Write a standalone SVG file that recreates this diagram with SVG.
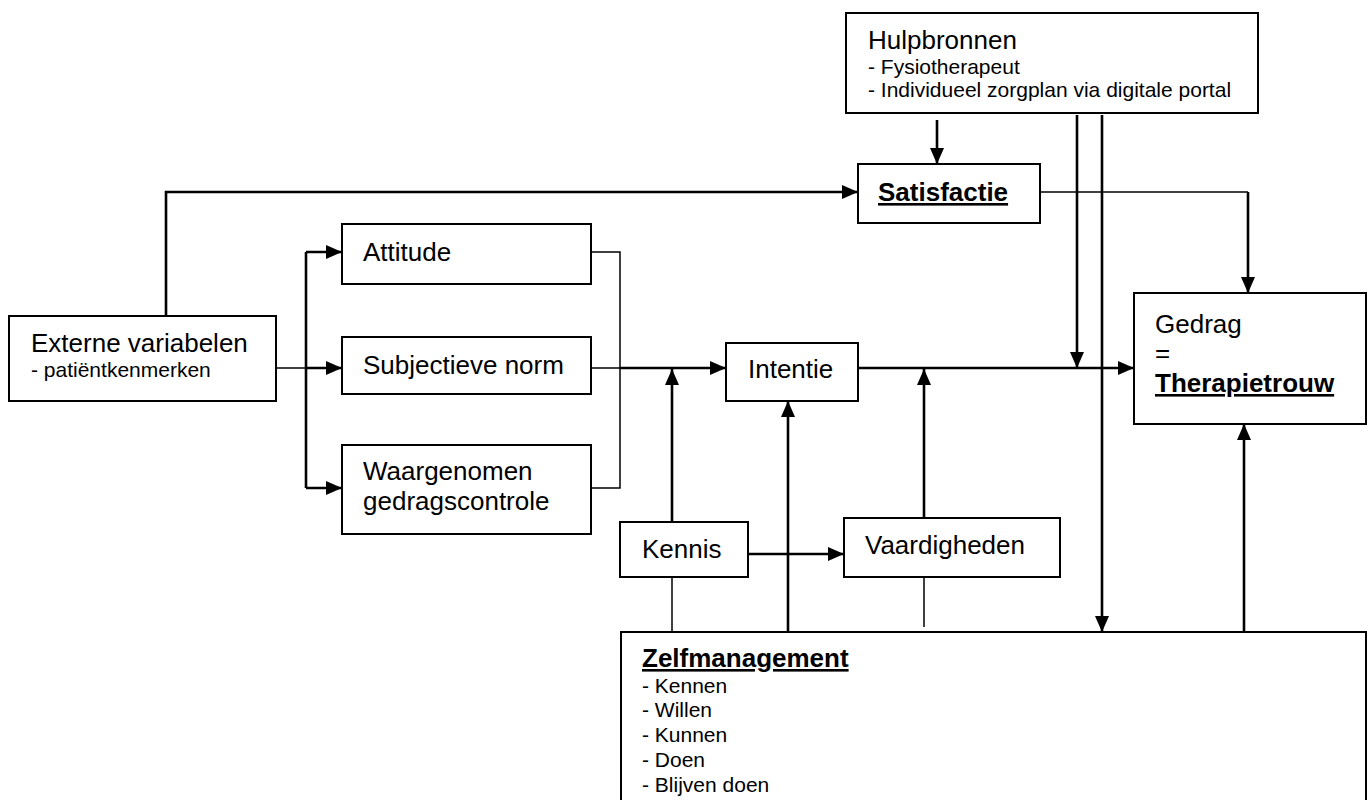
<svg xmlns="http://www.w3.org/2000/svg" width="1367" height="800" viewBox="0 0 1367 800">
<style>
.box{fill:#fff;stroke:#000;stroke-width:2}
.t{font-family:"Liberation Sans",Arial,sans-serif;font-size:26px;fill:#000}
.s{font-family:"Liberation Sans",Arial,sans-serif;font-size:21px;fill:#000}
.b{font-weight:bold;text-decoration:underline}
.th{fill:none;stroke:#000;stroke-width:2.6}
.tn{fill:none;stroke:#000;stroke-width:1.5}
</style>
<defs>
<marker id="ah" markerWidth="16" markerHeight="14" refX="16" refY="7" orient="auto" markerUnits="userSpaceOnUse"><path d="M0,0 L16,7 L0,14 Z" fill="#000"/></marker>
</defs>
<rect width="1367" height="800" fill="#fff"/>
<g id="nodes">
<g id="hulpbronnen"><rect class="box" x="846" y="13" width="412" height="100"/>
<text class="t" x="868" y="49">Hulpbronnen</text>
<text class="s" x="868" y="74">- Fysiotherapeut</text>
<text class="s" x="868" y="97">- Individueel zorgplan via digitale portal</text></g>
<g id="satisfactie"><rect class="box" x="858" y="164" width="182" height="59"/>
<text class="t b" x="878" y="201">Satisfactie</text></g>
<g id="externe"><rect class="box" x="9" y="316" width="267" height="85"/>
<text class="t" x="31" y="352">Externe variabelen</text>
<text class="s" x="31" y="377">- patiëntkenmerken</text></g>
<g id="attitude"><rect class="box" x="342" y="224" width="249" height="60"/>
<text class="t" x="363" y="261">Attitude</text></g>
<g id="subjectieve"><rect class="box" x="342" y="337" width="249" height="57"/>
<text class="t" x="363" y="374">Subjectieve norm</text></g>
<g id="waargenomen"><rect class="box" x="342" y="445" width="249" height="89"/>
<text class="t" x="363" y="480">Waargenomen</text>
<text class="t" x="363" y="510">gedragscontrole</text></g>
<g id="intentie"><rect class="box" x="726" y="343" width="132" height="58"/>
<text class="t" x="748" y="378">Intentie</text></g>
<g id="gedrag"><rect class="box" x="1134" y="293" width="232" height="131"/>
<text class="t" x="1155" y="333">Gedrag</text>
<text class="t" x="1155" y="362">=</text>
<text class="t b" x="1155" y="392">Therapietrouw</text></g>
<g id="kennis"><rect class="box" x="620" y="522" width="128" height="55"/>
<text class="t" x="642" y="558">Kennis</text></g>
<g id="vaardigheden"><rect class="box" x="844" y="518" width="216" height="59"/>
<text class="t" x="865" y="554">Vaardigheden</text></g>
<g id="zelfmanagement"><rect class="box" x="621" y="632" width="745" height="200"/>
<text class="t b" x="642" y="667">Zelfmanagement</text>
<text class="s" x="642" y="693">- Kennen</text>
<text class="s" x="642" y="717">- Willen</text>
<text class="s" x="642" y="742">- Kunnen</text>
<text class="s" x="642" y="767">- Doen</text>
<text class="s" x="642" y="792">- Blijven doen</text></g>
</g>
<g id="connectors">
<path class="th" d="M166,316 V192 H858" marker-end="url(#ah)"/>
<path class="tn" d="M276,368 H306"/>
<path class="th" d="M306,252 V488"/>
<path class="th" d="M306,252 H342" marker-end="url(#ah)"/>
<path class="th" d="M306,368 H342" marker-end="url(#ah)"/>
<path class="th" d="M306,488 H342" marker-end="url(#ah)"/>
<path class="tn" d="M591,252 H620 V488 H591"/>
<path class="tn" d="M591,368 H620"/>
<path class="th" d="M620,368 H726" marker-end="url(#ah)"/>
<path class="th" d="M672,522 V369" marker-end="url(#ah)"/>
<path class="th" d="M788,632 V401" marker-end="url(#ah)"/>
<path class="th" d="M858,368 H1134" marker-end="url(#ah)"/>
<path class="th" d="M924,518 V369" marker-end="url(#ah)"/>
<path class="th" d="M1077,115 V368" marker-end="url(#ah)"/>
<path class="th" d="M1102,115 V632" marker-end="url(#ah)"/>
<path class="th" d="M937,120 V164" marker-end="url(#ah)"/>
<path class="tn" d="M1040,192 H1248"/>
<path class="th" d="M1248,192 V293" marker-end="url(#ah)"/>
<path class="th" d="M1244,632 V424" marker-end="url(#ah)"/>
<path class="th" d="M748,554 H844" marker-end="url(#ah)"/>
<path class="tn" d="M672,577 V632"/>
<path class="tn" d="M924,577 V627"/>
</g>
</svg>
